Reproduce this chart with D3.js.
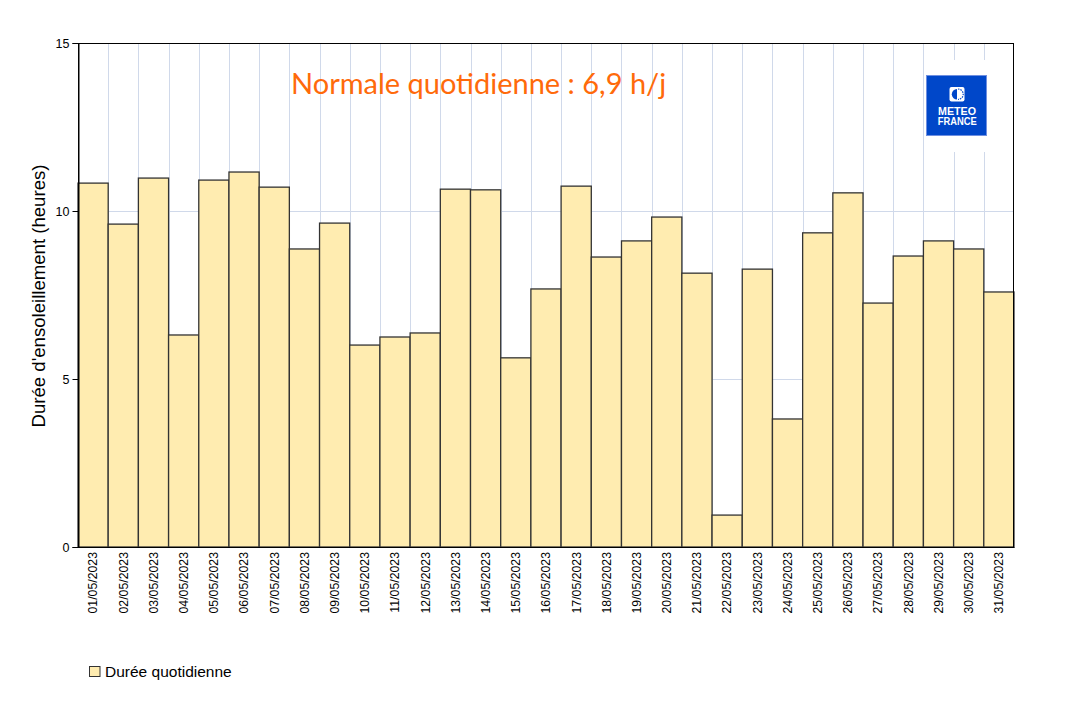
<!DOCTYPE html>
<html>
<head>
<meta charset="utf-8">
<script src="https://cdn.jsdelivr.net/npm/d3@7"></script>
<style>
  html, body { margin: 0; padding: 0; background: #fff; }
  svg { display: block; }
</style>
</head>
<body>
<svg id="chart" width="1068" height="703"></svg>
<script>
const days = ["01/05/2023","02/05/2023","03/05/2023","04/05/2023","05/05/2023","06/05/2023","07/05/2023","08/05/2023","09/05/2023","10/05/2023","11/05/2023","12/05/2023","13/05/2023","14/05/2023","15/05/2023","16/05/2023","17/05/2023","18/05/2023","19/05/2023","20/05/2023","21/05/2023","22/05/2023","23/05/2023","24/05/2023","25/05/2023","26/05/2023","27/05/2023","28/05/2023","29/05/2023","30/05/2023","31/05/2023"];
const sunshineHours = [10.83,9.61,10.98,6.31,10.92,11.16,10.71,8.87,9.64,6.01,6.25,6.37,10.65,10.63,5.63,7.68,10.74,8.63,9.11,9.82,8.15,0.95,8.27,3.81,9.35,10.54,7.26,8.66,9.11,8.87,7.59];
const yTicks = [0,5,10,15];
const yLabel = "Durée d'ensoleillement (heures)";
const seriesName = "Durée quotidienne";
const normalText = "Normale quotidienne : 6,9 h/j";

const svg = d3.select("#chart");
const plotLeft = 78, plotTop = 43, plotW = 936, plotH = 504;

const x = d3.scaleBand().domain(days).range([plotLeft, plotLeft + plotW]).padding(0);
const y = d3.scaleLinear().domain([0, 15]).range([plotTop + plotH, plotTop]);

const g = svg.append("g");

// vertical grid lines at bar boundaries
g.selectAll("line.vgrid").data(days.slice(1)).join("line")
  .attr("class", "vgrid")
  .attr("x1", d => Math.round(x(d)) + 0.5).attr("x2", d => Math.round(x(d)) + 0.5)
  .attr("y1", plotTop).attr("y2", plotTop + plotH)
  .attr("stroke", "#d0d9ea").attr("stroke-width", 1);

// horizontal grid lines
g.selectAll("line.hgrid").data(yTicks.filter(t => t > 0 && t < 15)).join("line")
  .attr("class", "hgrid")
  .attr("x1", plotLeft).attr("x2", plotLeft + plotW)
  .attr("y1", d => Math.round(y(d)) + 0.5).attr("y2", d => Math.round(y(d)) + 0.5)
  .attr("stroke", "#d0d9ea").attr("stroke-width", 1);

// white box behind logo
g.append("rect").attr("x", 926).attr("y", 60).attr("width", 74).attr("height", 92).attr("fill", "#fff");

// bars
g.selectAll("rect.bar").data(days).join("rect")
  .attr("class", "bar")
  .attr("x", d => x(d))
  .attr("y", (d, i) => y(sunshineHours[i]))
  .attr("width", x.bandwidth())
  .attr("height", (d, i) => y(0) - y(sunshineHours[i]))
  .attr("fill", "#ffecb0")
  .attr("stroke", "#333333")
  .attr("stroke-width", 1.3);

// plot frame
g.append("rect").attr("x", plotLeft + 0.5).attr("y", plotTop + 0.5)
  .attr("width", plotW - 1).attr("height", plotH)
  .attr("fill", "none").attr("stroke", "#000").attr("stroke-width", 1);

// y axis
const yAxis = d3.axisLeft(y).tickValues(yTicks).tickSize(6).tickPadding(3).tickFormat(d3.format("d"));
const ya = svg.append("g").attr("transform", `translate(${plotLeft + 0.5},0)`).call(yAxis);
ya.select(".domain").attr("stroke", "#000");
ya.selectAll(".tick line").attr("stroke", "#000");
ya.selectAll(".tick text").attr("font-family", "'Liberation Sans', Arial, sans-serif").attr("font-size", 12.5).attr("fill", "#000");

// x axis
const xAxis = d3.axisBottom(x).tickSize(0).tickPadding(0);
const xa = svg.append("g").attr("transform", `translate(0,${plotTop + plotH})`).call(xAxis);
xa.select(".domain").attr("stroke", "#000");
xa.selectAll(".tick text")
  .attr("font-family", "'Liberation Sans', Arial, sans-serif").attr("font-size", 12.3).attr("fill", "#000")
  .attr("transform", "rotate(-90)")
  .attr("text-anchor", "end")
  .attr("x", -5).attr("y", 0).attr("dy", "0.35em");

// y label
svg.append("text")
  .attr("transform", `translate(45,296) rotate(-90)`)
  .attr("text-anchor", "middle")
  .attr("font-family", "'Liberation Sans', Arial, sans-serif").attr("font-size", 18.6)
  .attr("fill", "#000")
  .text(yLabel);

// normal text
svg.append("text")
  .attr("x", 291).attr("y", 94)
  .attr("font-family", "Lato, 'Open Sans', sans-serif").attr("font-size", 29)
  .attr("fill", "#ff6a0a")
  .text(normalText);

// logo
const logo = svg.append("g");
logo.append("rect").attr("x", 926.5).attr("y", 75.5).attr("width", 60).attr("height", 60)
  .attr("fill", "#0047c9").attr("stroke", "#6f8fe0").attr("stroke-width", 1);
logo.append("rect").attr("x", 949.5).attr("y", 87).attr("width", 15).attr("height", 14.5).attr("rx", 2).attr("fill", "#fff");
logo.append("path").attr("d", "M957,89 A5.2,5.2 0 0 0 957,99.4 Z").attr("fill", "#0047c9");
logo.append("path").attr("d", "M958,89 A5.2,5.2 0 0 1 958,99.4").attr("fill", "none").attr("stroke", "#0047c9").attr("stroke-width", 1.2).attr("stroke-dasharray", "1.5,1");
logo.append("text").attr("x", 938).attr("y", 114.5)
  .attr("font-family", "'Liberation Sans', Arial, sans-serif").attr("font-weight", "bold").attr("font-size", 10)
  .attr("textLength", 38).attr("lengthAdjust", "spacingAndGlyphs")
  .attr("fill", "#fff").text("METEO");
logo.append("text").attr("x", 937.8).attr("y", 124.5)
  .attr("font-family", "'Liberation Sans', Arial, sans-serif").attr("font-weight", "bold").attr("font-size", 10)
  .attr("textLength", 39).attr("lengthAdjust", "spacingAndGlyphs")
  .attr("fill", "#fff").text("FRANCE");

// legend
const lg = svg.append("g");
lg.append("rect").attr("x", 89.5).attr("y", 666.5).attr("width", 10.5).attr("height", 10)
  .attr("fill", "#ffecb0").attr("stroke", "#333").attr("stroke-width", 1);
lg.append("text").attr("x", 105).attr("y", 677)
  .attr("font-family", "'Liberation Sans', Arial, sans-serif").attr("font-size", 15.5).attr("fill", "#000")
  .text(seriesName);
</script>
</body>
</html>
